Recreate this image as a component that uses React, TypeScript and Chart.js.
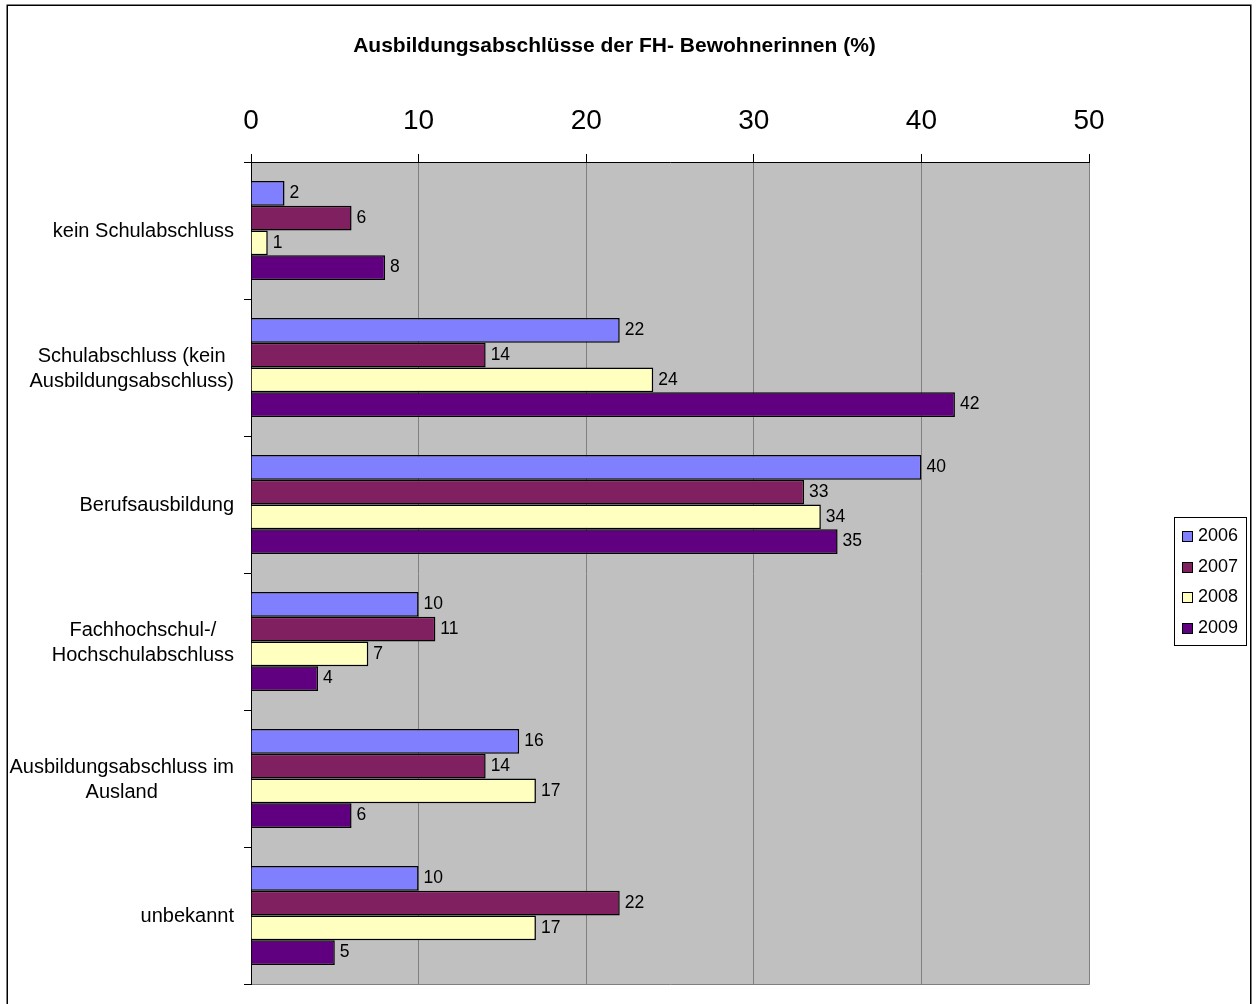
import React, { useEffect, useRef } from "react";
import { Chart, registerables } from "chart.js";
Chart.register(...registerables);

const FONT = '"Liberation Sans", Arial, Helvetica, sans-serif';

const chartTitle = "Ausbildungsabschlüsse der FH- Bewohnerinnen (%)";
const categories: string[][] = [
  ["kein Schulabschluss"],
  ["Schulabschluss (kein", "Ausbildungsabschluss)"],
  ["Berufsausbildung"],
  ["Fachhochschul-/", "Hochschulabschluss"],
  ["Ausbildungsabschluss im", "Ausland"],
  ["unbekannt"],
];
const seriesNames = ["2006", "2007", "2008", "2009"];
const values2006 = [2, 22, 40, 10, 16, 10];
const values2007 = [6, 14, 33, 11, 14, 22];
const values2008 = [1, 24, 34, 7, 17, 17];
const values2009 = [8, 42, 35, 4, 6, 5];
const seriesColors = ["#8080FF", "#802060", "#FFFFC0", "#600080"];
const xMin = 0;
const xMax = 50;
const xStep = 10;

const decorPlugin = {
  id: "decor",
  beforeDraw(chart: any) {
    const { ctx, chartArea: a } = chart;
    ctx.save();
    ctx.fillStyle = "#ffffff";
    ctx.fillRect(0, 0, chart.width, chart.height);
    ctx.fillStyle = "#C0C0C0";
    ctx.fillRect(a.left, a.top, a.right - a.left, a.bottom - a.top);
    ctx.strokeStyle = "#808080";
    ctx.lineWidth = 1;
    ctx.beginPath();
    ctx.moveTo(Math.round(a.right) + 0.5, a.top);
    ctx.lineTo(Math.round(a.right) + 0.5, Math.round(a.bottom) + 0.5);
    ctx.lineTo(a.left, Math.round(a.bottom) + 0.5);
    ctx.stroke();
    ctx.restore();
  },
  afterDatasetsDraw(chart: any) {
    const { ctx } = chart;
    ctx.save();
    ctx.font = `17.5px ${FONT}`;
    ctx.fillStyle = "#000";
    ctx.textAlign = "left";
    ctx.textBaseline = "middle";
    chart.data.datasets.forEach((ds: any, i: number) => {
      const meta = chart.getDatasetMeta(i);
      meta.data.forEach((el: any, j: number) => {
        ctx.fillText(String(ds.data[j]), el.x + 5, el.y);
      });
    });
    ctx.restore();
  },
  afterDraw(chart: any) {
    const { ctx, chartArea: a } = chart;
    ctx.save();
    // title
    ctx.font = `bold 21px ${FONT}`;
    ctx.fillStyle = "#000";
    ctx.textAlign = "center";
    ctx.textBaseline = "middle";
    ctx.fillText(chartTitle, 614.5, 46);

    // category labels
    const yScale = chart.scales.y;
    ctx.font = `20px ${FONT}`;
    const right = a.left - 17;
    const lh = 25;
    (chart.data.labels as string[][]).forEach((lines, i) => {
      const cy = yScale.getPixelForValue(i) + 1;
      const w = Math.max(...lines.map((l) => ctx.measureText(l).width));
      const cx = right - w / 2;
      const y0 = cy - ((lines.length - 1) * lh) / 2;
      lines.forEach((l, k) => ctx.fillText(l, cx, y0 + k * lh));
    });

    // legend
    ctx.strokeStyle = "#000";
    ctx.lineWidth = 1;
    ctx.strokeRect(1174.5, 517.5, 72, 128);
    ctx.font = `18px ${FONT}`;
    ctx.textAlign = "left";
    chart.data.datasets.forEach((ds: any, i: number) => {
      const yy = 536 + i * 30.7;
      ctx.fillStyle = ds.backgroundColor;
      ctx.fillRect(1182, Math.round(yy) - 5, 10, 10);
      ctx.strokeRect(1182.5, Math.round(yy) - 4.5, 10, 10);
      ctx.fillStyle = "#000";
      ctx.fillText(ds.label, 1198, yy);
    });

    // outer border
    ctx.lineWidth = 1.5;
    ctx.strokeStyle = "#000";
    ctx.strokeRect(7.25, 5.25, 1243.5, 1020);
    ctx.restore();
  },
};

export default function App() {
  const ref = useRef<HTMLCanvasElement | null>(null);
  useEffect(() => {
    if (!ref.current) return;
    const series = [values2006, values2007, values2008, values2009];
    const chart = new Chart(ref.current, {
      type: "bar",
      data: {
        labels: categories as any,
        datasets: series.map((vals, i) => ({
          label: seriesNames[i],
          data: vals,
          backgroundColor: seriesColors[i],
          borderColor: "#000",
          borderWidth: 1.5,
          categoryPercentage: 0.723,
          barPercentage: 1.0,
        })),
      },
      options: {
        indexAxis: "y",
        animation: false,
        responsive: false,
        devicePixelRatio: 1,
        layout: { padding: { left: 0, right: 169, top: 0, bottom: 20 } },
        plugins: {
          legend: { display: false },
          title: { display: false },
          tooltip: { enabled: false },
        },
        scales: {
          x: {
            type: "linear",
            position: "top",
            min: xMin,
            max: xMax,
            ticks: {
              stepSize: xStep,
              color: "#000",
              font: { family: FONT, size: 28 },
              padding: 16,
            },
            grid: {
              color: "#808080",
              tickColor: "#000",
              tickLength: 8,
              lineWidth: 1,
            },
            border: { color: "#000", width: 1 },
            afterFit(s: any) {
              s.height = 162;
            },
          },
          y: {
            type: "category",
            position: "left",
            ticks: { display: false },
            grid: {
              drawOnChartArea: false,
              offset: true,
              tickLength: 7,
              tickColor: "#000",
            },
            border: { color: "#000", width: 1 },
            afterFit(s: any) {
              s.width = 251;
            },
          },
        },
      } as any,
      plugins: [decorPlugin],
    });
    return () => chart.destroy();
  }, []);
  return (
    <div style={{ position: "absolute", left: 0, top: 0, width: 1258, height: 1004 }}>
      <canvas ref={ref} width={1258} height={1004} style={{ display: "block" }} />
    </div>
  );
}
